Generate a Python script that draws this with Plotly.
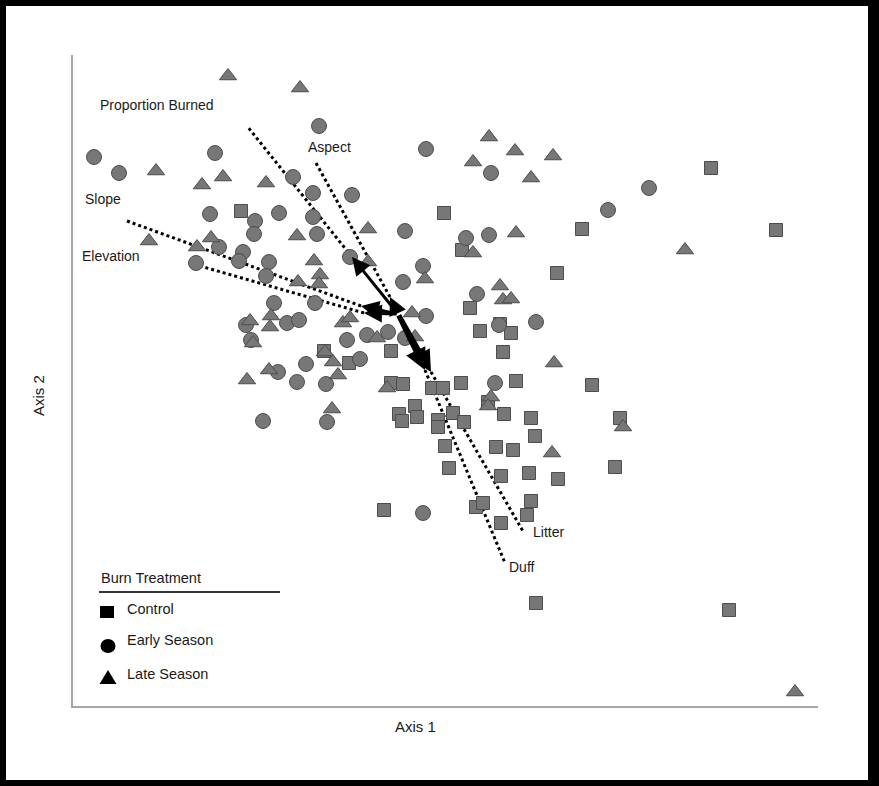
import plotly.graph_objects as go

# ---------------- data (ordination scores; y grows downward on screen) -------------
control_x = [241, 444, 711, 776, 582, 557, 462, 470, 480, 500, 511, 503, 324, 349, 391, 391, 403, 432,
             443, 461, 516, 592, 415, 399, 402, 417, 453, 438, 438, 464, 504, 531, 535, 445, 496, 513,
             449, 501, 529, 558, 531, 476, 483, 527, 501, 384, 620, 615, 536, 729, 488]
control_y = [211, 213, 168, 230, 229, 273, 250, 308, 331, 324, 333, 352, 351, 363, 351, 383, 384, 388,
             388, 383, 381, 385, 406, 414, 421, 417, 413, 420, 427, 422, 414, 418, 436, 446, 447, 450,
             468, 476, 473, 479, 501, 507, 503, 515, 523, 510, 418, 467, 603, 610, 402]

early_x = [94, 119, 215, 319, 293, 313, 352, 426, 491, 210, 255, 254, 279, 313, 317, 219, 243, 239,
           196, 269, 266, 350, 405, 466, 489, 423, 403, 477, 608, 649, 536, 426, 315, 274, 246, 287,
           299, 367, 251, 347, 388, 405, 499, 306, 278, 360, 297, 326, 263, 327, 495, 423]
early_y = [157, 173, 153, 126, 177, 193, 195, 149, 173, 214, 221, 234, 213, 217, 234, 247, 252, 261,
           263, 262, 276, 257, 231, 238, 235, 266, 282, 294, 210, 188, 322, 316, 303, 303, 325, 323,
           320, 335, 340, 340, 332, 338, 325, 364, 372, 359, 382, 384, 421, 422, 383, 513]

late_x = [228, 300, 156, 202, 223, 266, 149, 197, 211, 297, 314, 298, 320, 319, 368, 368, 489, 515,
          473, 553, 531, 516, 473, 425, 500, 503, 511, 412, 250, 271, 270, 253, 343, 350, 377, 325,
          333, 269, 247, 338, 332, 415, 387, 554, 491, 488, 552, 623, 685, 795]
late_y = [76, 88, 171, 185, 177, 183, 241, 247, 238, 236, 261, 282, 275, 284, 229, 262, 137, 151,
          162, 156, 178, 233, 253, 279, 286, 300, 299, 313, 321, 316, 327, 343, 323, 318, 338, 352,
          362, 370, 380, 375, 409, 337, 388, 363, 397, 406, 453, 427, 250, 692]

# environmental vectors (joint plot)
vec_names = ["Proportion Burned", "Aspect", "Slope", "Elevation", "Duff", "Litter"]
vec_origin = (398, 314)
vec_head_x = [352, 390, 361, 364, 425, 431]
vec_head_y = [257, 297, 306, 313, 370, 372]
vec_end_x = [247, 316, 127, 193, 505, 524]
vec_end_y = [126, 163, 221, 264, 563, 533]
vec_width = [3, 3, 3, 3, 5, 5]
label_x = [157, 329, 103, 111, 522, 548]
label_y = [105, 147, 199, 256, 567, 532]

legend_title = "Burn Treatment"
legend_items = ["Control", "Early Season", "Late Season"]

X_RANGE = [73, 818]
Y_RANGE = [706, 55]

# ---------------- figure ----------------
W, H = 879, 786
ML, MR, MT, MB = 73, 61, 55, 80
PW, PH = W - ML - MR, H - MT - MB


def px2paper_x(px):
    return (px - ML) / PW


def px2paper_y(py):
    return (H - MB - py) / PH


fill = "#777777"
edge = "#4d4d4d"

fig = go.Figure()

# dotted vector lines
for i in range(len(vec_names)):
    fig.add_trace(go.Scatter(
        x=[vec_head_x[i], vec_end_x[i]], y=[vec_head_y[i], vec_end_y[i]],
        mode="lines", line=dict(color="black", width=3, dash="dot"),
        hoverinfo="skip", showlegend=False))

fig.add_trace(go.Scatter(x=control_x, y=control_y, mode="markers", name="Control",
                         marker=dict(symbol="square", size=13, color=fill,
                                     line=dict(color=edge, width=1)),
                         cliponaxis=False, showlegend=False))
fig.add_trace(go.Scatter(x=early_x, y=early_y, mode="markers", name="Early Season",
                         marker=dict(symbol="circle", size=15, color=fill,
                                     line=dict(color=edge, width=1)),
                         cliponaxis=False, showlegend=False))
fig.add_trace(go.Scatter(x=late_x, y=late_y, mode="markers", name="Late Season",
                         marker=dict(symbol="triangle-up", size=15, color=fill,
                                     line=dict(color=edge, width=1)),
                         cliponaxis=False, showlegend=False))

annotations = []
# arrows
for i in range(len(vec_names)):
    annotations.append(dict(
        x=vec_head_x[i], y=vec_head_y[i], ax=vec_origin[0], ay=vec_origin[1],
        xref="x", yref="y", axref="x", ayref="y", text="", showarrow=True,
        arrowhead=2, arrowsize=1.2 if vec_width[i] <= 3 else 0.85,
        arrowwidth=vec_width[i], arrowcolor="black", standoff=0))
# vector labels
for i in range(len(vec_names)):
    annotations.append(dict(
        x=label_x[i], y=label_y[i], xref="x", yref="y", text=vec_names[i],
        showarrow=False, font=dict(size=14, color="#1a1a1a"),
        xanchor="center", yanchor="middle"))

# axis titles
annotations.append(dict(x=px2paper_x(415), y=px2paper_y(726), xref="paper", yref="paper",
                        text="Axis 1", showarrow=False, xanchor="center", yanchor="middle",
                        font=dict(size=15, color="#1a1a1a")))
annotations.append(dict(x=px2paper_x(38), y=px2paper_y(396), xref="paper", yref="paper",
                        text="Axis 2", showarrow=False, textangle=-90,
                        xanchor="center", yanchor="middle",
                        font=dict(size=15, color="#1a1a1a")))

# legend texts
annotations.append(dict(x=px2paper_x(99), y=px2paper_y(578), xref="paper", yref="paper",
                        text=legend_title, showarrow=False, xanchor="left", yanchor="middle",
                        font=dict(size=14.5, color="#1a1a1a")))
leg_text_y = [609, 640, 674]
for t, yy in zip(legend_items, leg_text_y):
    annotations.append(dict(x=px2paper_x(125), y=px2paper_y(yy), xref="paper", yref="paper",
                            text=t, showarrow=False, xanchor="left", yanchor="middle",
                            font=dict(size=14.5, color="#1a1a1a")))

shapes = [
    # white page inside the black frame
    dict(type="rect", xref="paper", yref="paper",
         x0=px2paper_x(6), x1=px2paper_x(868), y0=px2paper_y(780), y1=px2paper_y(6),
         fillcolor="white", line=dict(width=0), layer="below"),
    # legend underline
    dict(type="line", xref="paper", yref="paper",
         x0=px2paper_x(99), x1=px2paper_x(280), y0=px2paper_y(592), y1=px2paper_y(592),
         line=dict(color="#333333", width=2)),
    # legend symbols
    dict(type="rect", xref="paper", yref="paper", xsizemode="pixel", ysizemode="pixel",
         xanchor=px2paper_x(107), yanchor=px2paper_y(612), x0=-7, x1=7, y0=-6, y1=6,
         fillcolor="black", line=dict(width=0)),
    dict(type="circle", xref="paper", yref="paper", xsizemode="pixel", ysizemode="pixel",
         xanchor=px2paper_x(108), yanchor=px2paper_y(646), x0=-7.5, x1=7.5, y0=-7, y1=7,
         fillcolor="black", line=dict(width=0)),
    dict(type="path", xref="paper", yref="paper", xsizemode="pixel", ysizemode="pixel",
         xanchor=px2paper_x(108), yanchor=px2paper_y(677),
         path="M -8.5,-7 L 8.5,-7 L 0,7 Z", fillcolor="black", line=dict(width=0)),
]

fig.update_layout(
    width=W, height=H,
    margin=dict(l=ML, r=MR, t=MT, b=MB),
    paper_bgcolor="black", plot_bgcolor="white",
    font=dict(family="Liberation Sans, Arial, sans-serif", color="#1a1a1a"),
    xaxis=dict(range=X_RANGE, showgrid=False, zeroline=False, showticklabels=False,
               ticks="", showline=True, linecolor="#a6a6a6", linewidth=2, fixedrange=True),
    yaxis=dict(range=Y_RANGE, showgrid=False, zeroline=False, showticklabels=False,
               ticks="", showline=True, linecolor="#a6a6a6", linewidth=2, fixedrange=True),
    annotations=annotations, shapes=shapes, showlegend=False,
)

fig.write_html("out.html", config={"displayModeBar": False},
               post_script="document.body.style.margin='0';document.body.style.overflow='hidden';")
